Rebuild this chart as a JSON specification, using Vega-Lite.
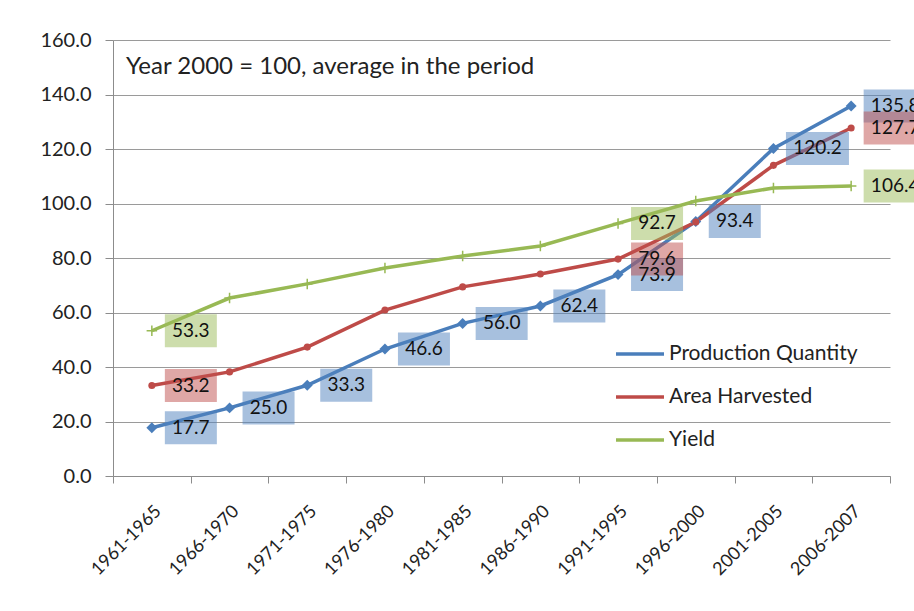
{
  "$schema": "https://vega.github.io/schema/vega-lite/v6.json",
  "width": 777,
  "height": 436,
  "autosize": {"type": "none"},
  "padding": {"left": 113, "top": 40, "right": 24, "bottom": 135},
  "background": "white",
  "config": {"view": {"stroke": null}, "font": "Lato"},
  "title": {
    "text": "Year 2000 = 100, average in the period",
    "anchor": "start",
    "frame": "group",
    "orient": "top",
    "offset": 0,
    "dx": 13,
    "dy": 49,
    "baseline": "top",
    "fontSize": 24,
    "fontWeight": "normal",
    "font": "Lato",
    "color": "#222222"
  },
  "data": {
    "values": [
      {"period": "1961-1965", "series": "Production Quantity", "value": 17.7, "label": true},
      {"period": "1966-1970", "series": "Production Quantity", "value": 25.0, "label": true},
      {"period": "1971-1975", "series": "Production Quantity", "value": 33.3, "label": true},
      {"period": "1976-1980", "series": "Production Quantity", "value": 46.6, "label": true},
      {"period": "1981-1985", "series": "Production Quantity", "value": 56.0, "label": true},
      {"period": "1986-1990", "series": "Production Quantity", "value": 62.4, "label": true},
      {"period": "1991-1995", "series": "Production Quantity", "value": 73.9, "label": true},
      {"period": "1996-2000", "series": "Production Quantity", "value": 93.4, "label": true},
      {"period": "2001-2005", "series": "Production Quantity", "value": 120.2, "label": true},
      {"period": "2006-2007", "series": "Production Quantity", "value": 135.8, "label": true},
      {"period": "1961-1965", "series": "Area Harvested", "value": 33.2, "label": true},
      {"period": "1966-1970", "series": "Area Harvested", "value": 38.2, "label": false},
      {"period": "1971-1975", "series": "Area Harvested", "value": 47.3, "label": false},
      {"period": "1976-1980", "series": "Area Harvested", "value": 60.9, "label": false},
      {"period": "1981-1985", "series": "Area Harvested", "value": 69.4, "label": false},
      {"period": "1986-1990", "series": "Area Harvested", "value": 74.1, "label": false},
      {"period": "1991-1995", "series": "Area Harvested", "value": 79.6, "label": true},
      {"period": "1996-2000", "series": "Area Harvested", "value": 93.2, "label": false},
      {"period": "2001-2005", "series": "Area Harvested", "value": 114.0, "label": false},
      {"period": "2006-2007", "series": "Area Harvested", "value": 127.7, "label": true},
      {"period": "1961-1965", "series": "Yield", "value": 53.3, "label": true},
      {"period": "1966-1970", "series": "Yield", "value": 65.3, "label": false},
      {"period": "1971-1975", "series": "Yield", "value": 70.5, "label": false},
      {"period": "1976-1980", "series": "Yield", "value": 76.3, "label": false},
      {"period": "1981-1985", "series": "Yield", "value": 80.7, "label": false},
      {"period": "1986-1990", "series": "Yield", "value": 84.4, "label": false},
      {"period": "1991-1995", "series": "Yield", "value": 92.7, "label": true},
      {"period": "1996-2000", "series": "Yield", "value": 100.9, "label": false},
      {"period": "2001-2005", "series": "Yield", "value": 105.7, "label": false},
      {"period": "2006-2007", "series": "Yield", "value": 106.4, "label": true}
    ]
  },
  "encoding": {
    "x": {
      "field": "period",
      "type": "ordinal",
      "bandPosition": 0.5,
      "scale": {"type": "band", "paddingInner": 0, "paddingOuter": 0},
      "axis": {
        "title": null,
        "tickBand": "extent",
        "labelAngle": -45,
        "labelFontSize": 18,
        "labelFont": "Lato",
        "labelColor": "#222222",
        "labelPadding": 19,
        "tickSize": 7,
        "domainColor": "#8c8c8c",
        "tickColor": "#8c8c8c",
        "grid": false
      }
    },
    "y": {
      "field": "value",
      "type": "quantitative",
      "scale": {"domain": [0, 160], "nice": false},
      "axis": {
        "title": null,
        "values": [0, 20, 40, 60, 80, 100, 120, 140, 160],
        "format": ".1f",
        "labelFontSize": 20,
        "labelFont": "Lato",
        "labelColor": "#222222",
        "labelPadding": 14,
        "tickSize": 8,
        "domainColor": "#8c8c8c",
        "tickColor": "#8c8c8c",
        "gridColor": "#9a9a9a",
        "gridWidth": 1
      }
    }
  },
  "layer": [
    {
      "mark": {"type": "line", "strokeWidth": 3.5},
      "encoding": {
        "color": {
          "field": "series",
          "type": "nominal",
          "sort": null,
          "scale": {
            "domain": ["Production Quantity", "Area Harvested", "Yield"],
            "range": ["#4a7ebb", "#be4b48", "#98b954"]
          },
          "legend": {
            "title": null,
            "orient": "none",
            "legendX": 501,
            "legendY": 288,
            "symbolType": "stroke",
            "symbolStrokeWidth": 3.5,
            "symbolSize": 2304,
            "labelFontSize": 21,
            "labelFont": "Lato",
            "labelColor": "#222222",
            "labelOffset": 3,
            "labelLimit": 0,
            "rowPadding": 7
          }
        }
      }
    },
    {
      "transform": [{"filter": "datum.series === 'Production Quantity'"}],
      "mark": {"type": "point", "shape": "diamond", "filled": true, "size": 120, "color": "#4a7ebb", "opacity": 1}
    },
    {
      "transform": [{"filter": "datum.series === 'Area Harvested'"}],
      "mark": {"type": "point", "shape": "circle", "filled": true, "size": 50, "color": "#be4b48", "opacity": 1}
    },
    {
      "transform": [{"filter": "datum.series === 'Yield'"}],
      "mark": {"type": "point", "shape": "M0,-1L0,1M-1,0L1,0", "filled": false, "size": 110, "color": "#98b954", "strokeWidth": 1.5, "opacity": 1}
    },
    {
      "transform": [{"filter": "datum.label && datum.value < 100"}],
      "mark": {"type": "rect", "width": 52, "height": 33, "xOffset": 39, "opacity": 0.5},
      "encoding": {
        "fill": {
          "field": "series",
          "type": "nominal",
          "scale": {
            "domain": ["Production Quantity", "Area Harvested", "Yield"],
            "range": ["#4f81bd", "#c0504d", "#9bbb59"]
          },
          "legend": null
        }
      }
    },
    {
      "transform": [{"filter": "datum.label && datum.value >= 100"}],
      "mark": {"type": "rect", "width": 63, "height": 33, "xOffset": 44, "opacity": 0.5},
      "encoding": {
        "fill": {
          "field": "series",
          "type": "nominal",
          "scale": {
            "domain": ["Production Quantity", "Area Harvested", "Yield"],
            "range": ["#4f81bd", "#c0504d", "#9bbb59"]
          },
          "legend": null
        }
      }
    },
    {
      "transform": [{"filter": "datum.label && datum.value < 100"}],
      "mark": {"type": "text", "fontSize": 19, "font": "Lato", "color": "#111111", "xOffset": 39, "baseline": "middle", "align": "center"},
      "encoding": {"text": {"field": "value", "type": "quantitative", "format": ".1f"}}
    },
    {
      "transform": [{"filter": "datum.label && datum.value >= 100"}],
      "mark": {"type": "text", "fontSize": 19, "font": "Lato", "color": "#111111", "xOffset": 44, "baseline": "middle", "align": "center"},
      "encoding": {"text": {"field": "value", "type": "quantitative", "format": ".1f"}}
    }
  ]
}
